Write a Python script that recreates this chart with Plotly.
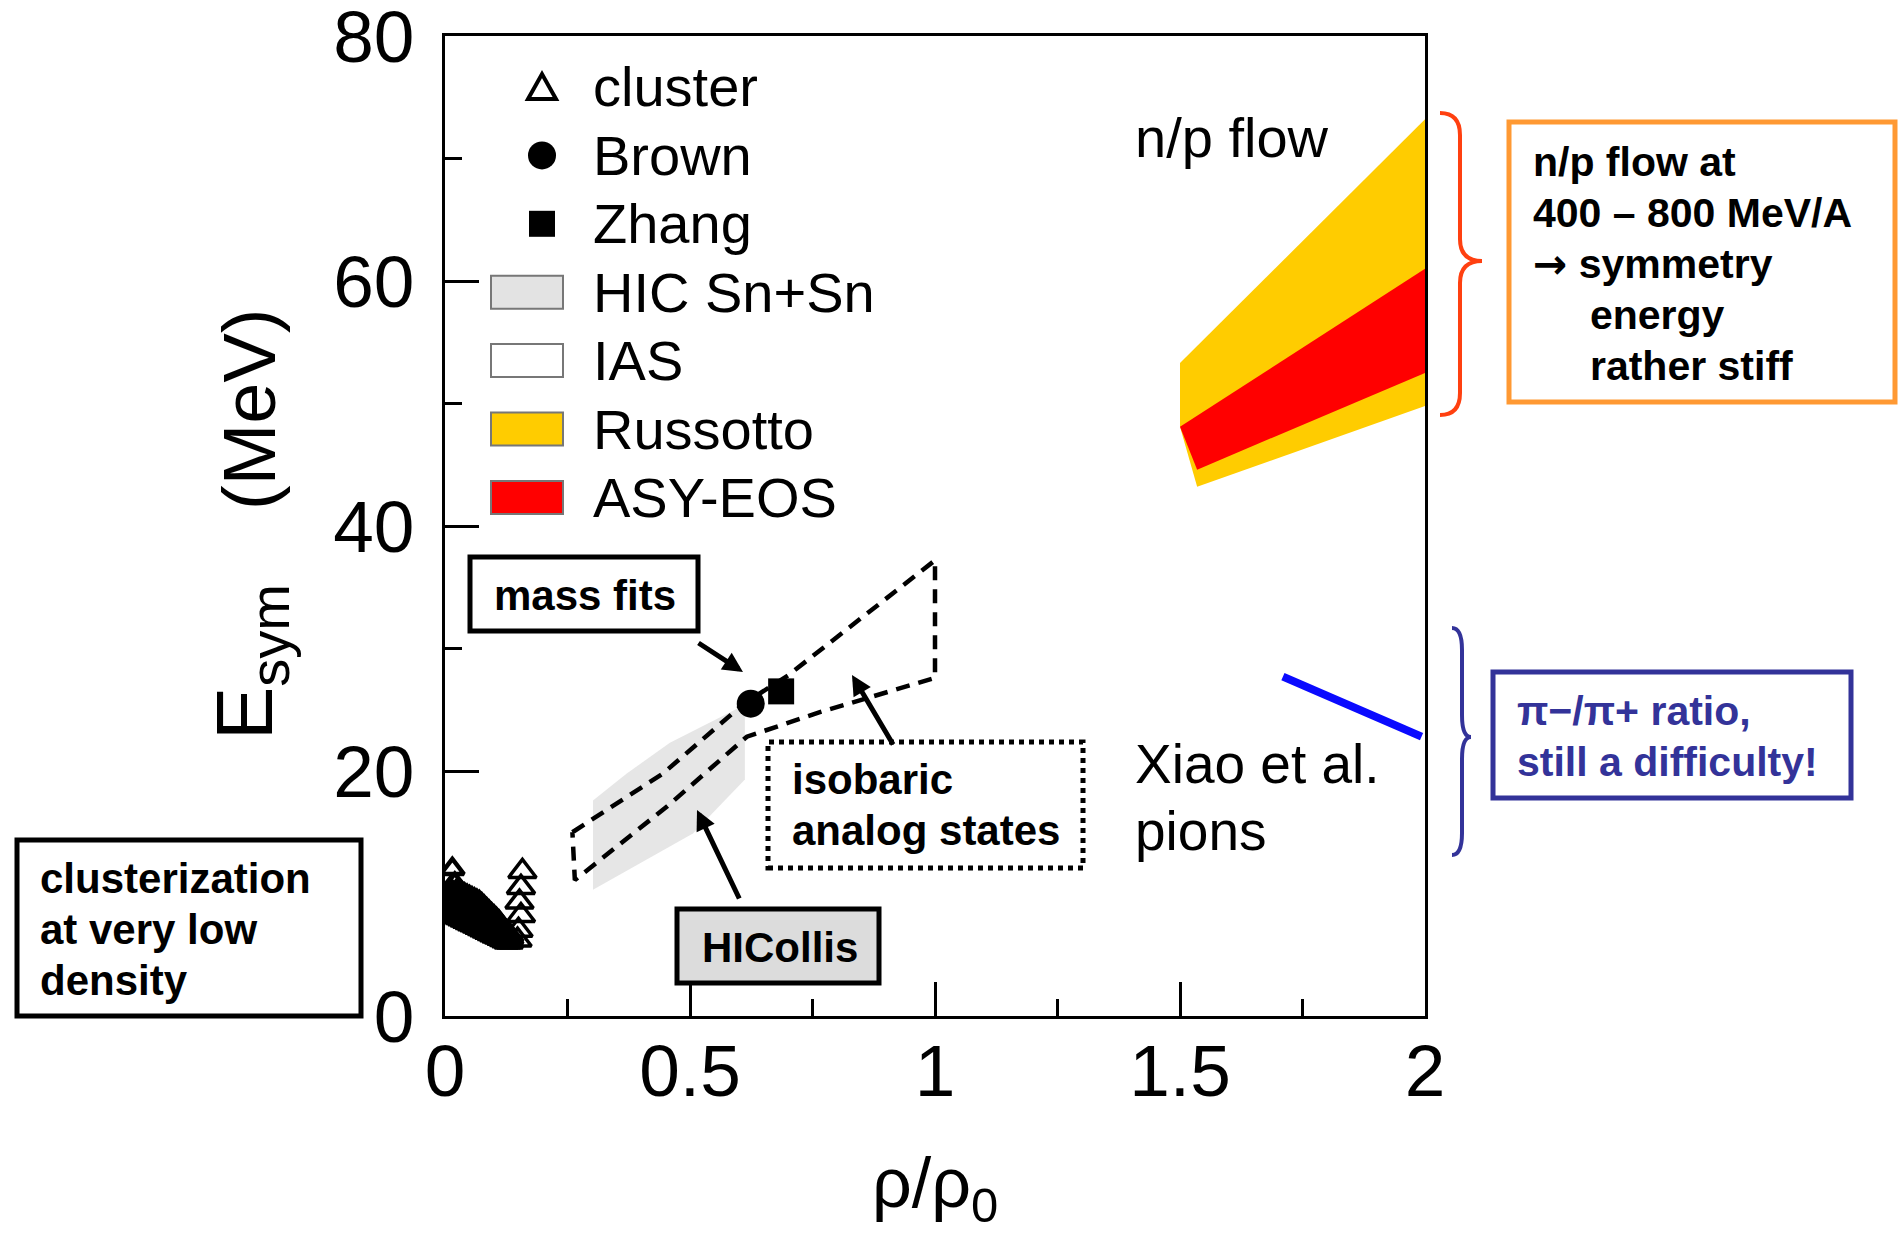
import plotly.graph_objects as go

# ---------------- data ----------------
# Russotto band (gold) and ASY-EOS band (red), n/p flow
russotto_x = [1.50, 2.00, 2.00, 1.535, 1.50]
russotto_y = [53.3, 73.2, 49.8, 43.2, 48.1]
asyeos_x = [1.50, 2.00, 2.00, 1.535]
asyeos_y = [48.1, 61.0, 52.5, 44.6]

# Xiao et al. pions (blue line)
xiao_x = [1.71, 1.993]
xiao_y = [27.7, 22.8]

# mass fits
brown_x = [0.624]
brown_y = [25.5]
zhang_x = [0.686]
zhang_y = [26.5]

# IAS (dashed contour)
ias_x = [0.26, 0.445, 0.61, 0.70, 1.0, 1.0, 0.765, 0.616, 0.453, 0.265, 0.26]
ias_y = [15.0, 19.8, 25.5, 27.8, 37.2, 27.6, 24.8, 22.8, 17.1, 11.1, 15.0]

# HIC Sn+Sn (grey band)
hic_x = [0.302, 0.371, 0.459, 0.602, 0.612, 0.612, 0.506, 0.302]
hic_y = [17.6, 19.8, 22.3, 25.2, 25.2, 19.3, 14.9, 10.3]

# cluster data (low density): dense set of points
cluster_dense_x = [0.005, 0.010, 0.015, 0.020, 0.025, 0.030, 0.035, 0.040, 0.045,
                   0.050, 0.055, 0.060, 0.065, 0.070, 0.075, 0.080, 0.085, 0.090,
                   0.095, 0.100, 0.105, 0.110, 0.115, 0.120, 0.125, 0.130, 0.135]
cluster_upper_y = [10.0, 10.4, 12.0, 10.8, 10.3, 10.2, 10.0, 9.9, 9.8,
                   9.7, 9.6, 9.5, 9.4, 9.3, 9.1, 8.9, 8.7, 8.5,
                   8.3, 8.1, 7.9, 7.7, 7.4, 7.1, 6.9, 6.7, 6.5]
cluster_mid_y = [9.2, 9.3, 10.0, 9.4, 9.1, 9.0, 8.9, 8.8, 8.7,
                 8.6, 8.5, 8.4, 8.3, 8.2, 8.0, 7.9, 7.8, 7.6,
                 7.5, 7.3, 7.2, 7.0, 6.8, 6.6, 6.5, 6.4, 6.3]
cluster_lower_y = [8.4, 8.3, 8.2, 8.1, 8.0, 7.9, 7.8, 7.7, 7.6,
                   7.5, 7.4, 7.3, 7.2, 7.1, 7.0, 6.9, 6.8, 6.7,
                   6.6, 6.5, 6.4, 6.3, 6.2, 6.1, 6.0, 6.0, 6.0]
cluster_open_x = [0.158, 0.155, 0.152, 0.155, 0.150, 0.148]
cluster_open_y = [11.8, 10.5, 9.3, 8.2, 7.0, 6.2]

# axis ticks
x_ticks = [0, 0.5, 1, 1.5, 2]
x_ticklabels = ["0", "0.5", "1", "1.5", "2"]
y_ticks = [0, 20, 40, 60, 80]
y_ticklabels = ["0", "20", "40", "60", "80"]

# legend entries
legend_labels = ["cluster", "Brown", "Zhang", "HIC Sn+Sn", "IAS", "Russotto", "ASY-EOS"]
legend_kinds = ["triangle", "circle", "square", "rect", "rect", "rect", "rect"]
legend_fills = ["black", "black", "black", "#e3e3e3", "white", "#ffcc00", "#ff0000"]

GOLD = "#ffcc00"
RED = "#ff0000"
FONT = "Liberation Sans, Arial, Helvetica, sans-serif"

# ---------------- figure geometry ----------------
W, H = 1901, 1239
L, R, T, B = 445, 1425, 36, 1016   # plot area in pixels


def px(X):
    return (X - L) / (R - L)


def py(Y):
    return (B - Y) / (B - T)


fig = go.Figure()

fig.add_trace(go.Scatter(x=hic_x, y=hic_y, fill="toself", fillcolor="#e6e6e6",
                         line=dict(width=0), mode="lines", hoverinfo="skip"))
fig.add_trace(go.Scatter(x=ias_x, y=ias_y, mode="lines",
                         line=dict(color="black", width=4.5, dash="14px,9px")))
fig.add_trace(go.Scatter(x=russotto_x, y=russotto_y, fill="toself", fillcolor=GOLD,
                         line=dict(width=0), mode="lines"))
fig.add_trace(go.Scatter(x=asyeos_x, y=asyeos_y, fill="toself", fillcolor=RED,
                         line=dict(width=0), mode="lines"))
fig.add_trace(go.Scatter(x=xiao_x, y=xiao_y, mode="lines",
                         line=dict(color="#0a0aff", width=8)))
for cy in (cluster_upper_y, cluster_mid_y, cluster_lower_y):
    fig.add_trace(go.Scatter(x=cluster_dense_x, y=cy, mode="markers",
                             marker=dict(symbol="triangle-up-open", size=20,
                                         color="black", line=dict(width=4.5, color="black"))))
fig.add_trace(go.Scatter(x=cluster_open_x, y=cluster_open_y, mode="markers",
                         marker=dict(symbol="triangle-up-open", size=24,
                                     color="black", line=dict(width=3.5, color="black"))))
fig.add_trace(go.Scatter(x=brown_x, y=brown_y, mode="markers",
                         marker=dict(symbol="circle", size=28, color="black")))
fig.add_trace(go.Scatter(x=zhang_x, y=zhang_y, mode="markers",
                         marker=dict(symbol="square", size=26, color="black")))

shapes = []
annotations = []

# ---------------- manual legend ----------------
row0, row_step = 87, 68.4
for i, (lab, kind, fc) in enumerate(zip(legend_labels, legend_kinds, legend_fills)):
    yc = py(row0 + i * row_step)
    common = dict(xref="paper", yref="paper", xsizemode="pixel", ysizemode="pixel",
                  xanchor=px(542), yanchor=yc, layer="above")
    if kind == "triangle":
        shapes.append(dict(type="path", path="M-14,-12 L14,-12 L0,13 Z",
                           line=dict(color="black", width=4), fillcolor="rgba(0,0,0,0)", **common))
    elif kind == "circle":
        shapes.append(dict(type="circle", x0=-14, x1=14, y0=-14, y1=14,
                           fillcolor="black", line=dict(width=0), **common))
    elif kind == "square":
        shapes.append(dict(type="rect", x0=-13, x1=13, y0=-13, y1=13,
                           fillcolor="black", line=dict(width=0), **common))
    else:
        shapes.append(dict(type="rect", xref="paper", yref="paper",
                           x0=px(491), x1=px(563), y0=yc - 16.5 / (B - T), y1=yc + 16.5 / (B - T),
                           fillcolor=fc, line=dict(color="#777777", width=2), layer="above"))
    annotations.append(dict(text=lab, xref="paper", yref="paper", x=px(591), y=yc,
                            xanchor="left", yanchor="middle", showarrow=False,
                            font=dict(family=FONT, size=56, color="black")))


def dx(X):
    return (X - L) / (R - L) * 2.0


def dy(Y):
    return (B - Y) / (B - T) * 80.0


def arrow(x_tail, y_tail, x_head, y_head):
    annotations.append(dict(text="", x=dx(x_head), y=dy(y_head), ax=dx(x_tail), ay=dy(y_tail),
                            xref="x", yref="y", axref="x", ayref="y", showarrow=True,
                            arrowhead=2, arrowsize=0.8, arrowwidth=5, arrowcolor="black",
                            standoff=0, startstandoff=0))


def lines_text(lines, x_left, baseline0, step, size, color="black", bold=True):
    for k, t in enumerate(lines):
        yb = baseline0 + k * step
        annotations.append(dict(text=("<b>%s</b>" % t) if bold else t,
                                xref="paper", yref="paper", x=px(x_left), y=py(yb - 0.35 * size),
                                xanchor="left", yanchor="middle", showarrow=False,
                                font=dict(family=FONT, size=size, color=color)))


# mass fits box
shapes.append(dict(type="rect", xref="paper", yref="paper", x0=px(470), x1=px(698),
                   y0=py(631), y1=py(557), line=dict(color="black", width=5), fillcolor="white"))
lines_text(["mass fits"], 492, 610, 51, 42)
arrow(697, 642, 743, 672)

# clusterization box
shapes.append(dict(type="rect", xref="paper", yref="paper", x0=px(17), x1=px(361),
                   y0=py(1016), y1=py(840), line=dict(color="black", width=5), fillcolor="white"))
lines_text(["clusterization", "at very low", "density"], 38, 893, 51, 42)
arrow(349, 913, 438, 913)

# HICollis box
shapes.append(dict(type="rect", xref="paper", yref="paper", x0=px(677), x1=px(879),
                   y0=py(983), y1=py(909), line=dict(color="black", width=5), fillcolor="#dcdcdc"))
lines_text(["HICollis"], 700, 962, 51, 42)
arrow(740, 900, 697, 810)

# isobaric analog states box (dotted)
shapes.append(dict(type="rect", xref="paper", yref="paper", x0=px(768), x1=px(1083),
                   y0=py(868), y1=py(742), line=dict(color="black", width=5, dash="dot"),
                   fillcolor="white"))
lines_text(["isobaric", "analog states"], 790, 794, 51, 42)
arrow(894, 746, 852, 675)

# plot texts
lines_text(["n/p flow"], 1133, 157, 67, 56, bold=False)
lines_text(["Xiao et al.", "pions"], 1133, 783, 67, 55, bold=False)


# right side: braces and boxes
def brace(xh, xs, xt, ytop, ymid, ybot, color):
    r = 22
    pts = [
        ("M", xh, ytop), ("Q", xs, ytop, xs, ytop + r), ("L", xs, ymid - r),
        ("Q", xs, ymid, xt, ymid), ("Q", xs, ymid, xs, ymid + r), ("L", xs, ybot - r),
        ("Q", xs, ybot, xh, ybot),
    ]
    s = ""
    for p in pts:
        cmd = p[0]
        vals = p[1:]
        coords = []
        for j in range(0, len(vals), 2):
            coords.append("%.5f,%.5f" % (px(vals[j]), py(vals[j + 1])))
        s += cmd + " ".join(coords) + " "
    shapes.append(dict(type="path", xref="paper", yref="paper", path=s.strip(),
                       line=dict(color=color, width=4)))


brace(1440, 1460, 1482, 113, 261, 415, "#ff4010")
brace(1452, 1462, 1471, 628, 737, 855, "#333399")

shapes.append(dict(type="rect", xref="paper", yref="paper", x0=px(1509), x1=px(1895),
                   y0=py(402), y1=py(122), line=dict(color="#ff9933", width=5), fillcolor="white"))
lines_text(["n/p flow at", "400 – 800 MeV/A",
            "<span style='font-family:DejaVu Sans'>→</span> symmetry",
            "\u00a0\u00a0\u00a0\u00a0 energy", "\u00a0\u00a0\u00a0\u00a0 rather stiff"],
           1531, 176, 51.2, 41)

shapes.append(dict(type="rect", xref="paper", yref="paper", x0=px(1493), x1=px(1851),
                   y0=py(798), y1=py(672), line=dict(color="#333399", width=5), fillcolor="white"))
lines_text(["π−/π+ ratio,", "still a difficulty!"], 1515, 725, 51, 41, color="#333399")

# axis titles
annotations.append(dict(text="(MeV)", xref="paper", yref="paper", x=px(249), y=py(410),
                        textangle=-90, showarrow=False, xanchor="center", yanchor="middle",
                        font=dict(family=FONT, size=74, color="black")))
annotations.append(dict(text="E<sub>sym</sub>", xref="paper", yref="paper", x=px(250), y=py(662),
                        textangle=-90, showarrow=False, xanchor="center", yanchor="middle",
                        font=dict(family=FONT, size=80, color="black")))
annotations.append(dict(text="ρ/ρ<sub>0</sub>", xref="paper", yref="paper", x=0.5, y=py(1188),
                        showarrow=False, xanchor="center", yanchor="middle",
                        font=dict(family=FONT, size=70, color="black")))

axis_common = dict(showline=True, linecolor="black", linewidth=3, mirror=True,
                   ticks="inside", ticklen=34, tickwidth=3, tickcolor="black",
                   showgrid=False, zeroline=False, ticklabeloverflow="allow",
                   automargin=False,
                   tickfont=dict(family=FONT, size=73, color="black"))

fig.update_layout(
    width=W, height=H,
    margin=dict(l=L, r=W - R, t=T, b=H - B, pad=0, autoexpand=False),
    paper_bgcolor="white", plot_bgcolor="white",
    showlegend=False,
    xaxis=dict(range=[0, 2], tickvals=x_ticks, ticktext=x_ticklabels,
               minor=dict(dtick=0.25, ticks="inside", ticklen=17, tickwidth=3, tickcolor="black"),
               ticklabelstandoff=-11, **axis_common),
    yaxis=dict(range=[0, 80], tickvals=y_ticks, ticktext=y_ticklabels,
               minor=dict(dtick=10, ticks="inside", ticklen=17, tickwidth=3, tickcolor="black"),
               ticklabelstandoff=13, **axis_common),
    shapes=shapes,
    annotations=annotations,
)

fig.write_html("out.html", config={"displayModeBar": False},
               post_script="document.body.style.margin='0px';document.body.style.overflow='hidden';")
